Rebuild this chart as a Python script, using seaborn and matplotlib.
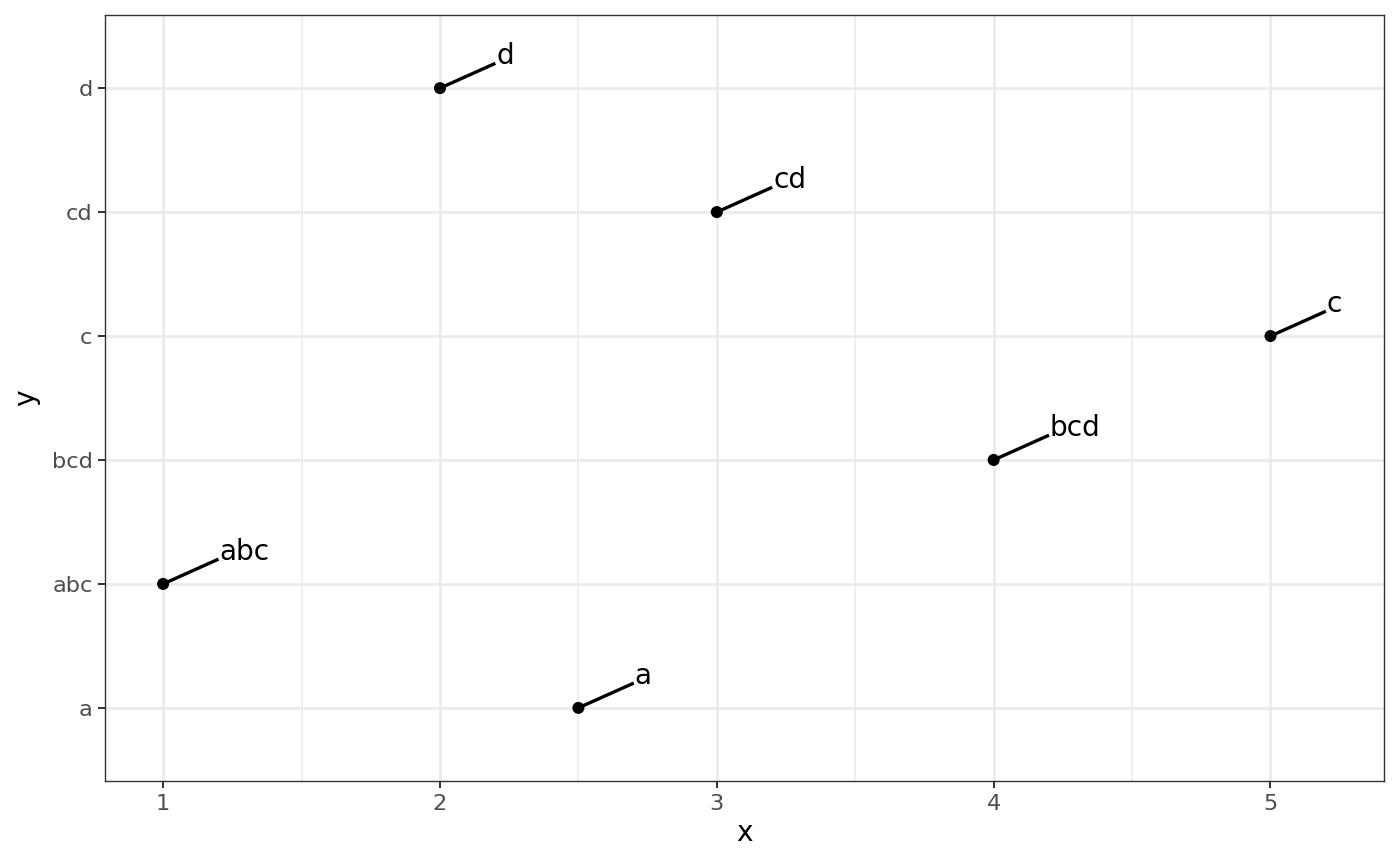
import matplotlib
matplotlib.use("Agg")
import matplotlib.pyplot as plt
import seaborn as sns
import pandas as pd
import numpy as np

# Data
x_vals = [1, 2, 2.5, 3, 4, 5]
y_vals = ["abc", "d", "a", "cd", "bcd", "c"]
labels = ["abc", "d", "a", "cd", "bcd", "c"]
y_levels = ["a", "abc", "bcd", "c", "cd", "d"]
nudge = 0.2

df = pd.DataFrame({"x": x_vals, "y": y_vals, "label": labels})
df["ycode"] = df["y"].map({v: i for i, v in enumerate(y_levels)})

sns.set_theme(style="white")
plt.rcParams["font.family"] = ["DejaVu Sans"]

fig = plt.figure(figsize=(14, 8.66), dpi=100)
ax = fig.add_axes([105/1400, 85/866, (1384-105)/1400, (781-15)/866])

# grid
for xv in [1.5, 2.5, 3.5, 4.5]:
    ax.axvline(xv, color="#EBEBEB", lw=1.1, zorder=0)
for xv in [1, 2, 3, 4, 5]:
    ax.axvline(xv, color="#EBEBEB", lw=2.0, zorder=0)
for yv in range(len(y_levels)):
    ax.axhline(yv, color="#EBEBEB", lw=2.0, zorder=0)

# segments and labels
for _, r in df.iterrows():
    ax.plot([r["x"], r["x"] + nudge], [r["ycode"], r["ycode"] + nudge],
            color="black", lw=2.4, solid_capstyle="butt", zorder=2)
    ax.text(r["x"] + nudge + 0.003, r["ycode"] + nudge - 0.005, r["label"],
            ha="left", va="baseline", fontsize=20.2, color="black", zorder=3)

sns.scatterplot(data=df, x="x", y="ycode", ax=ax, color="black", s=75,
                edgecolor="none", zorder=4, legend=False)

ax.set_xlim(0.79, 5.41)
ax.set_ylim(-0.59, 5.59)
ax.set_xticks([1, 2, 3, 4, 5])
ax.set_xticklabels(["1", "2", "3", "4", "5"])
ax.set_yticks(range(len(y_levels)))
ax.set_yticklabels(y_levels)
ax.tick_params(axis="both", length=5, width=1.4, color="#333333",
               labelcolor="#4D4D4D", labelsize=16.2, pad=4, direction="out")
ax.tick_params(left=True, bottom=True)
ax.set_xlabel("x", fontsize=20.2, color="black", labelpad=4)
ax.set_ylabel("y", fontsize=20.2, color="black", labelpad=8)
for sp in ax.spines.values():
    sp.set_visible(True)
    sp.set_color("#333333")
    sp.set_linewidth(1.0)
ax.grid(False)

fig.savefig("out.png", dpi=100, facecolor="white")
